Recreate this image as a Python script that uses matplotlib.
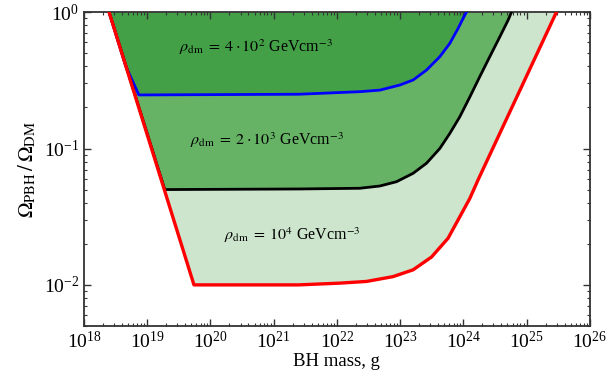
import numpy as np
from matplotlib import pyplot as plt

plt.rcParams['font.family'] = ['Liberation Serif', 'DejaVu Serif']
plt.rcParams['mathtext.fontset'] = 'stix'

# BH mass (g) and Omega_PBH / Omega_DM for each boundary curve
red_mass = [2.5e18, 5.5e19, 2.5e21, 1.11e22, 2.95e22, 7.76e22, 1.61e23, 3.14e23, 5.75e23,
            8.81e23, 1.27e24, 1.71e24, 2.97e25]
red_omega = [1.0, 0.01, 0.01, 0.0103, 0.0106, 0.0115, 0.0129, 0.016, 0.022,
             0.0316, 0.0431, 0.0588, 1.0]

black_mass = [2.5e18, 1.9e19, 2.5e21, 2.31e22, 4.79e22, 8.79e22, 1.61e23, 2.62e23, 4.25e23,
              6.12e23, 8.81e23, 1.27e24, 1.82e24, 2.62e24, 3.78e24, 5.11e24, 5.78e24]
black_omega = [1.0, 0.05, 0.0505, 0.0511, 0.0531, 0.0571, 0.0658, 0.078, 0.100,
               0.129, 0.171, 0.239, 0.336, 0.471, 0.659, 0.873, 1.0]

blue_mass = [2.5e18, 4.6e18, 7.4e18, 2.5e21, 2.31e22, 4.79e22, 9.9e22, 1.61e23, 2.62e23,
             4.25e23, 6.12e23, 8.28e23, 9.93e23, 1.12e24]
blue_omega = [1.0, 0.40, 0.247, 0.25, 0.261, 0.268, 0.292, 0.318, 0.376,
              0.471, 0.590, 0.760, 0.90, 1.0]

labels = [r'$\rho_{\rm dm}\;=\;4\cdot 10^2$ GeVcm$^{-3}$',
          r'$\rho_{\rm dm}\;=\;2\cdot 10^3$ GeVcm$^{-3}$',
          r'$\rho_{\rm dm}\;=\;10^4$ GeVcm$^{-3}$']
label_mass = [5.3e20, 7.8e20, 2.0e21]
label_omega = [0.55, 0.115, 0.0232]

fig = plt.figure(figsize=(6.08, 3.79), dpi=100)
ax = fig.add_axes([0.138, 0.140, 0.832, 0.828])

ax.fill_between(red_mass, red_omega, 1, color='#cce5cc', lw=0)
ax.fill_between(black_mass, black_omega, 1, color='#66b366', lw=0)
ax.fill_between(blue_mass, blue_omega, 1, color='#43a047', lw=0)

ax.plot(blue_mass, blue_omega, color='#0000ff', lw=2, zorder=3)
ax.plot(black_mass, black_omega, color='black', lw=2, zorder=4)
ax.plot(red_mass, red_omega, color='#ff0000', lw=2.4, zorder=5)

for lab, m, om in zip(labels, label_mass, label_omega):
    ax.text(m, om, lab, fontsize=11.5, ha='center', va='center')

ax.set_xscale('log')
ax.set_yscale('log')
ax.set_xlim(1e18, 1e26)
ax.set_ylim(5e-3, 1)
ax.set_xticks([10.0**k for k in range(18, 27)])
ax.set_yticks([1e-2, 1e-1, 1])

ax.tick_params(which='both', direction='in', top=True, right=True, colors='#333333', labelcolor='black', labelsize=14)
ax.tick_params(which='major', length=5, width=1)
ax.tick_params(which='minor', length=2.5, width=0.8)
for s in ax.spines.values():
    s.set_color('#333333')
    s.set_linewidth(1.3)

ax.set_xlabel('BH mass, g', fontsize=13.5, labelpad=1)
ax.set_ylabel(r'$\Omega_{\rm PBH}\,/\,\Omega_{\rm DM}$', fontsize=15, labelpad=4)

plt.savefig('out.png', dpi=100)
